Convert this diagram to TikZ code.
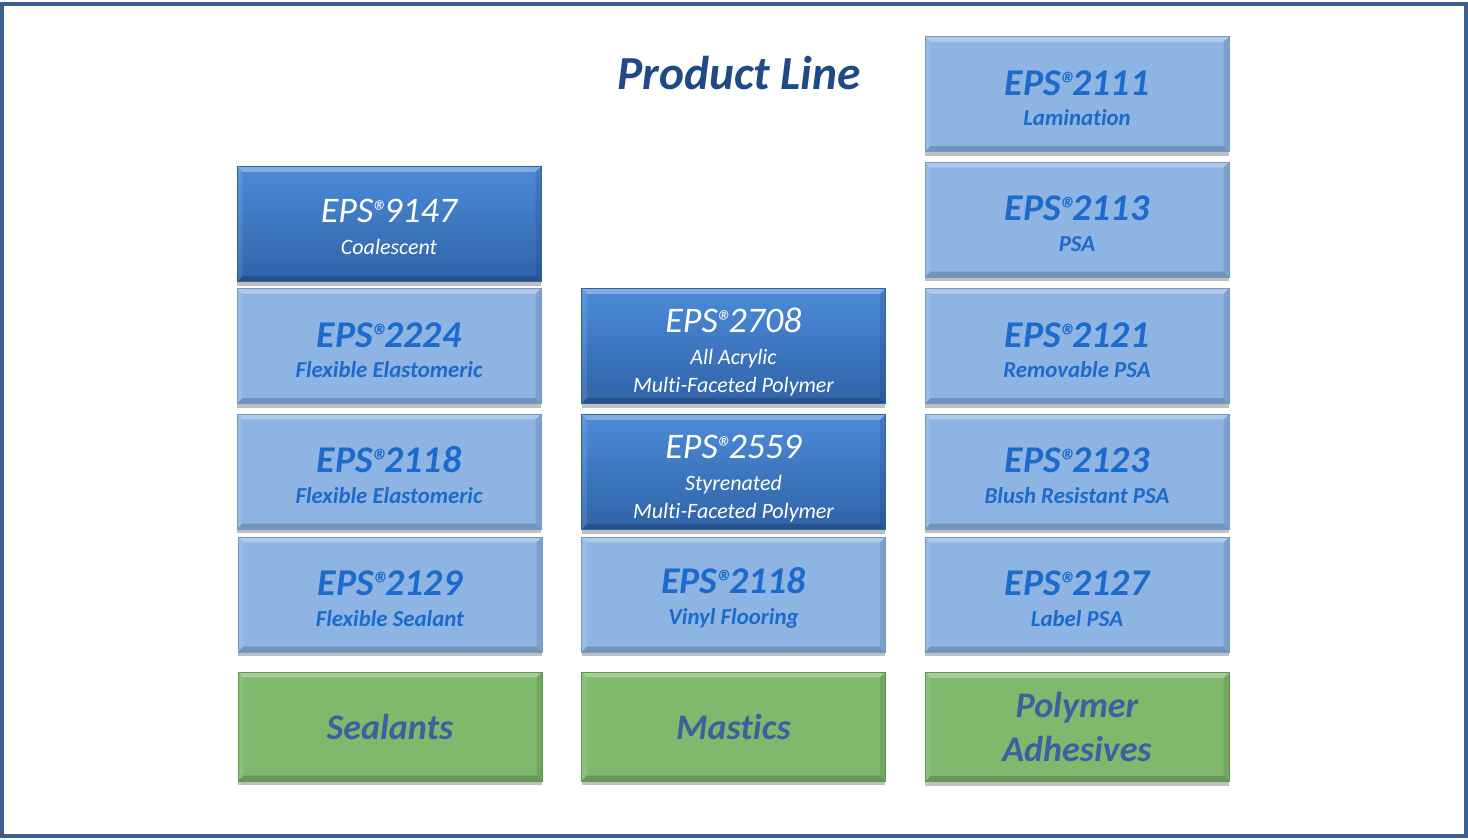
\documentclass[tikz,border=0pt]{standalone}
\usepackage{fontspec}
\setmainfont{Carlito}[Ligatures=NoCommon]
\usepackage{xcolor}
\usepackage{tikz}
\usetikzlibrary{calc}
\usetikzlibrary{positioning}
\usetikzlibrary{shadows}

\definecolor{framecol}{HTML}{3A5F8F}
\definecolor{titlecol}{HTML}{1F4A86}
\definecolor{lightfill}{HTML}{8DB4E3}
\definecolor{lightedge}{HTML}{7397C8}
\definecolor{lighttext}{HTML}{1C6ACB}
\definecolor{darktop}{HTML}{4C8BD8}
\definecolor{darkbot}{HTML}{2F63A8}
\definecolor{greenfill}{HTML}{80B86C}
\definecolor{greenedge}{HTML}{5E9650}
\definecolor{greentext}{HTML}{3A62A0}

\newcommand{\prodbold}[1]{{\fontsize{21.5}{24}\selectfont\bfseries\itshape\rule{0pt}{19pt}EPS\kern-0.5pt{\fontsize{19}{19}\selectfont ®}\kern-2.5pt#1}}
\newcommand{\prodreg}[1]{{\fontsize{20.5}{24}\selectfont\itshape\rule{0pt}{21pt}EPS\kern-0.5pt{\fontsize{18}{18}\selectfont ®}\kern-2.5pt#1}}

\tikzstyle{bevel} = [path picture={
  \path (path picture bounding box.north west) coordinate (nw)
        (path picture bounding box.south east) coordinate (se);
  \fill[white, opacity=0.3] (nw) -- (se |- nw) -- ([shift={(-3pt,-3pt)}]se |- nw) -- ([shift={(3pt,-3pt)}]nw) -- cycle;
  \fill[black, opacity=0.18] (se) -- (nw |- se) -- ([shift={(3pt,3pt)}]nw |- se) -- ([shift={(-3pt,3pt)}]se) -- cycle;
  \fill[black, opacity=0.1] (se) -- (se |- nw) -- ([shift={(-3pt,-3pt)}]se |- nw) -- ([shift={(-3pt,3pt)}]se) -- cycle;
  \fill[white, opacity=0.1] (nw) -- (nw |- se) -- ([shift={(3pt,3pt)}]nw |- se) -- ([shift={(3pt,-3pt)}]nw) -- cycle;
}]
\tikzstyle{boxshadow} = [drop shadow={shadow xshift=0pt, shadow yshift=-2.5pt, fill=black, opacity=0.25}]
\tikzstyle{lightbox} = [rectangle, minimum width=6.08cm, minimum height=2.3cm, fill=lightfill, draw=lightedge, text=lighttext, align=center, boxshadow, bevel, font=\fontsize{13}{17.5}\selectfont\bfseries\itshape]
\tikzstyle{darkbox} = [rectangle, minimum width=6.08cm, minimum height=2.3cm, top color=darktop, bottom color=darkbot, draw=darkbot, text=white, align=center, boxshadow, bevel, font=\fontsize{12.5}{16}\selectfont\itshape]
\tikzstyle{greenbox} = [rectangle, minimum width=6.08cm, minimum height=2.18cm, fill=greenfill, draw=greenedge, text=greentext, align=center, boxshadow, bevel, font=\fontsize{20.5}{25}\selectfont\bfseries\itshape]

\begin{document}
\begin{tikzpicture}[x=0.02cm, y=-0.02cm]
\useasboundingbox (0, 0) rectangle (1468, 839);
\draw [draw=framecol, line width=2.3pt] (2, 4) rectangle (1466, 836);

\node [text=titlecol, font=\fontsize{27}{30}\selectfont\bfseries\itshape] (title) at (739, 73) {Product Line};

\node [darkbox] (seal9147) at (389, 224) {\prodreg{9147}\\[2pt]Coalescent\rule[-4.5pt]{0pt}{0pt}};
\node [lightbox] (seal2224) at (389, 346) {\prodbold{2224}\\Flexible Elastomeric};
\node [lightbox] (seal2118) at (389, 471.5) {\prodbold{2118}\\Flexible Elastomeric};
\node [lightbox] (seal2129) at (390, 594.5) {\prodbold{2129}\\Flexible Sealant};
\node [greenbox] (sealants) at (390, 726.5) {Sealants};

\node [darkbox] (mast2708) at (733.5, 346) {\prodreg{2708}\\[2.5pt]All Acrylic\\Multi-Faceted Polymer};
\node [darkbox] (mast2559) at (733.5, 472) {\prodreg{2559}\\[2.5pt]Styrenated\\Multi-Faceted Polymer};
\node [lightbox] (mast2118) at (733.5, 594.5) {\prodbold{2118}\\Vinyl Flooring};
\node [greenbox] (mastics) at (733.5, 726.5) {Mastics};

\node [lightbox] (adh2111) at (1077, 94) {\prodbold{2111}\\Lamination};
\node [lightbox] (adh2113) at (1077, 219.5) {\prodbold{2113}\\PSA};
\node [lightbox] (adh2121) at (1077, 346) {\prodbold{2121}\\Removable PSA};
\node [lightbox] (adh2123) at (1077, 471.5) {\prodbold{2123}\\Blush Resistant PSA};
\node [lightbox] (adh2127) at (1077, 594.5) {\prodbold{2127}\\Label PSA};
\node [greenbox] (adhesives) at (1077, 727) {Polymer\\Adhesives};
\end{tikzpicture}
\end{document}
